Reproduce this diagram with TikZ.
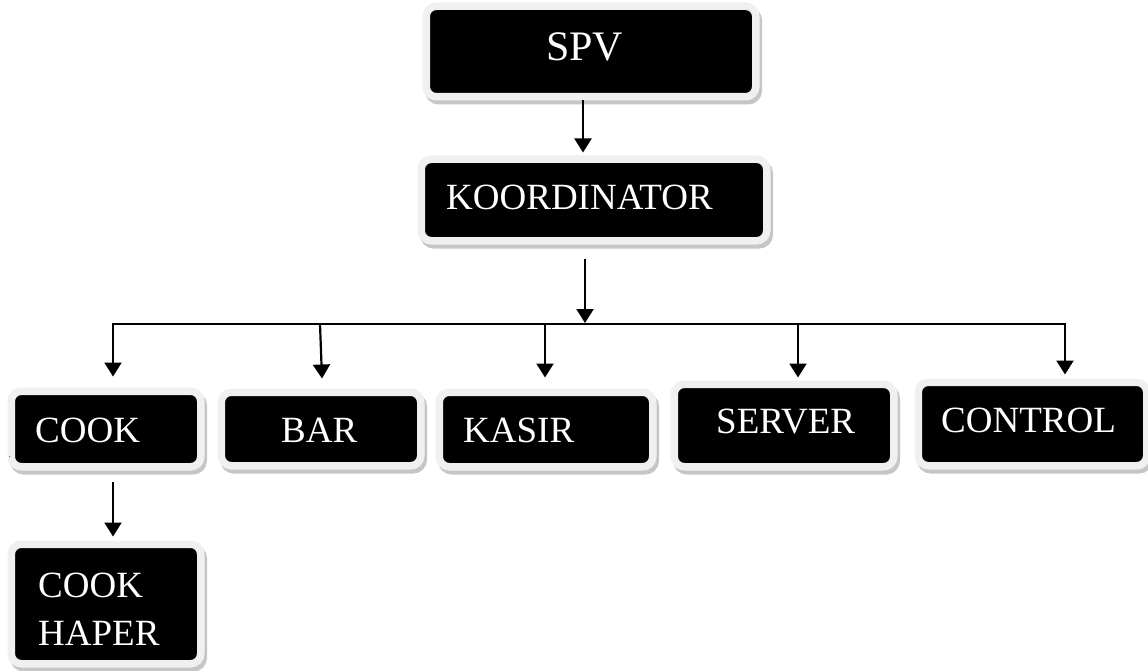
\documentclass[tikz,border=0pt]{standalone}
\usepackage{fontspec}
\setmainfont{Liberation Serif}
\usetikzlibrary{arrows.meta}
\definecolor{rim}{HTML}{F0F0F0}
\definecolor{shade}{HTML}{C6C6C6}
\begin{document}
\begin{tikzpicture}[x=1pt,y=1pt,
  box/.style={rectangle, rounded corners=10pt, fill=black, draw=rim, line width=7.5pt, inner sep=0pt,
    preaction={draw=shade, fill=shade, transform canvas={xshift=2.5pt,yshift=-4pt}}},
  lbl/.style={text=white, font=\fontsize{37}{44}\selectfont, inner sep=0pt, anchor=base west},
  arr/.style={line width=2.2pt, -{Triangle[width=17pt,length=14pt]}},
  busline/.style={line width=2.2pt, line cap=rect}]
\useasboundingbox (0,0) rectangle (1148,-671);

% boxes
\node[box, minimum width=329.5pt, minimum height=90.5pt] (spv) at (591,-51.5) {};
\node[box, minimum width=345.5pt, minimum height=81.5pt] (koord) at (594,-200) {};
\node[box, minimum width=189.5pt, minimum height=75.5pt] (cook) at (106,-429) {};
\node[box, minimum width=199.5pt, minimum height=73.5pt] (bar) at (321,-429) {};
\node[box, minimum width=213.5pt, minimum height=74.5pt] (kasir) at (546,-429.5) {};
\node[box, minimum width=219.5pt, minimum height=82.5pt] (server) at (784,-425.5) {};
\node[box, minimum width=228.5pt, minimum height=83.5pt] (control) at (1032.5,-424) {};
\node[box, minimum width=189.5pt, minimum height=119.5pt] (haper) at (106,-604) {};

% labels
\node[lbl, font=\fontsize{42}{50}\selectfont] (tspv) at (546,-61) {SPV};
\node[lbl] (tkoord) at (446,-209) {KOORDINATOR};
\node[lbl] (tcook) at (35,-442) {COOK};
\node[lbl] (tbar) at (281,-442) {BAR};
\node[lbl] (tkasir) at (463,-442) {KASIR};
\node[lbl] (tserver) at (716,-433) {SERVER};
\node[lbl] (tcontrol) at (941,-432) {CONTROL};
\node[lbl] (thaper1) at (38,-597) {COOK};
\node[lbl] (thaper2) at (38,-645) {HAPER};
\node[inner sep=0pt, anchor=base, font=\fontsize{8}{8}\selectfont] (dot) at (10,-457) {.};

% connector positions
\coordinate (xa) at (583,0);
\coordinate (xb) at (585,0);
\coordinate (busL) at (113,-324);
\coordinate (busR) at (1065,-324);
\coordinate (bus) at (585,-324);
\coordinate (xcook) at (113,0);
\coordinate (xbar1) at (320,-324);
\coordinate (xbar2) at (322,0);
\coordinate (xkasir) at (545,-324);
\coordinate (xserver) at (798,-324);

% connectors
\draw[arr] (spv.south -| xa) -- ([yshift=3pt]koord.north -| xa);
\draw[arr] ([yshift=-14pt]koord.south -| xb) -- ([yshift=1pt]bus);
\draw[busline] (busL) -- (busR);
\draw[arr] (busL) -- ([yshift=11pt]cook.north -| xcook);
\draw[arr] (xbar1) -- ([yshift=10pt]bar.north -| xbar2);
\draw[arr] (xkasir) -- ([yshift=11pt]kasir.north -| xkasir);
\draw[arr] (xserver) -- ([yshift=3pt]server.north -| xserver);
\draw[arr] (busR) -- ([yshift=4pt]control.north -| busR);
\draw[arr] ([yshift=-11pt]cook.south -| xcook) -- ([yshift=4pt]haper.north -| xcook);
\end{tikzpicture}
\end{document}
